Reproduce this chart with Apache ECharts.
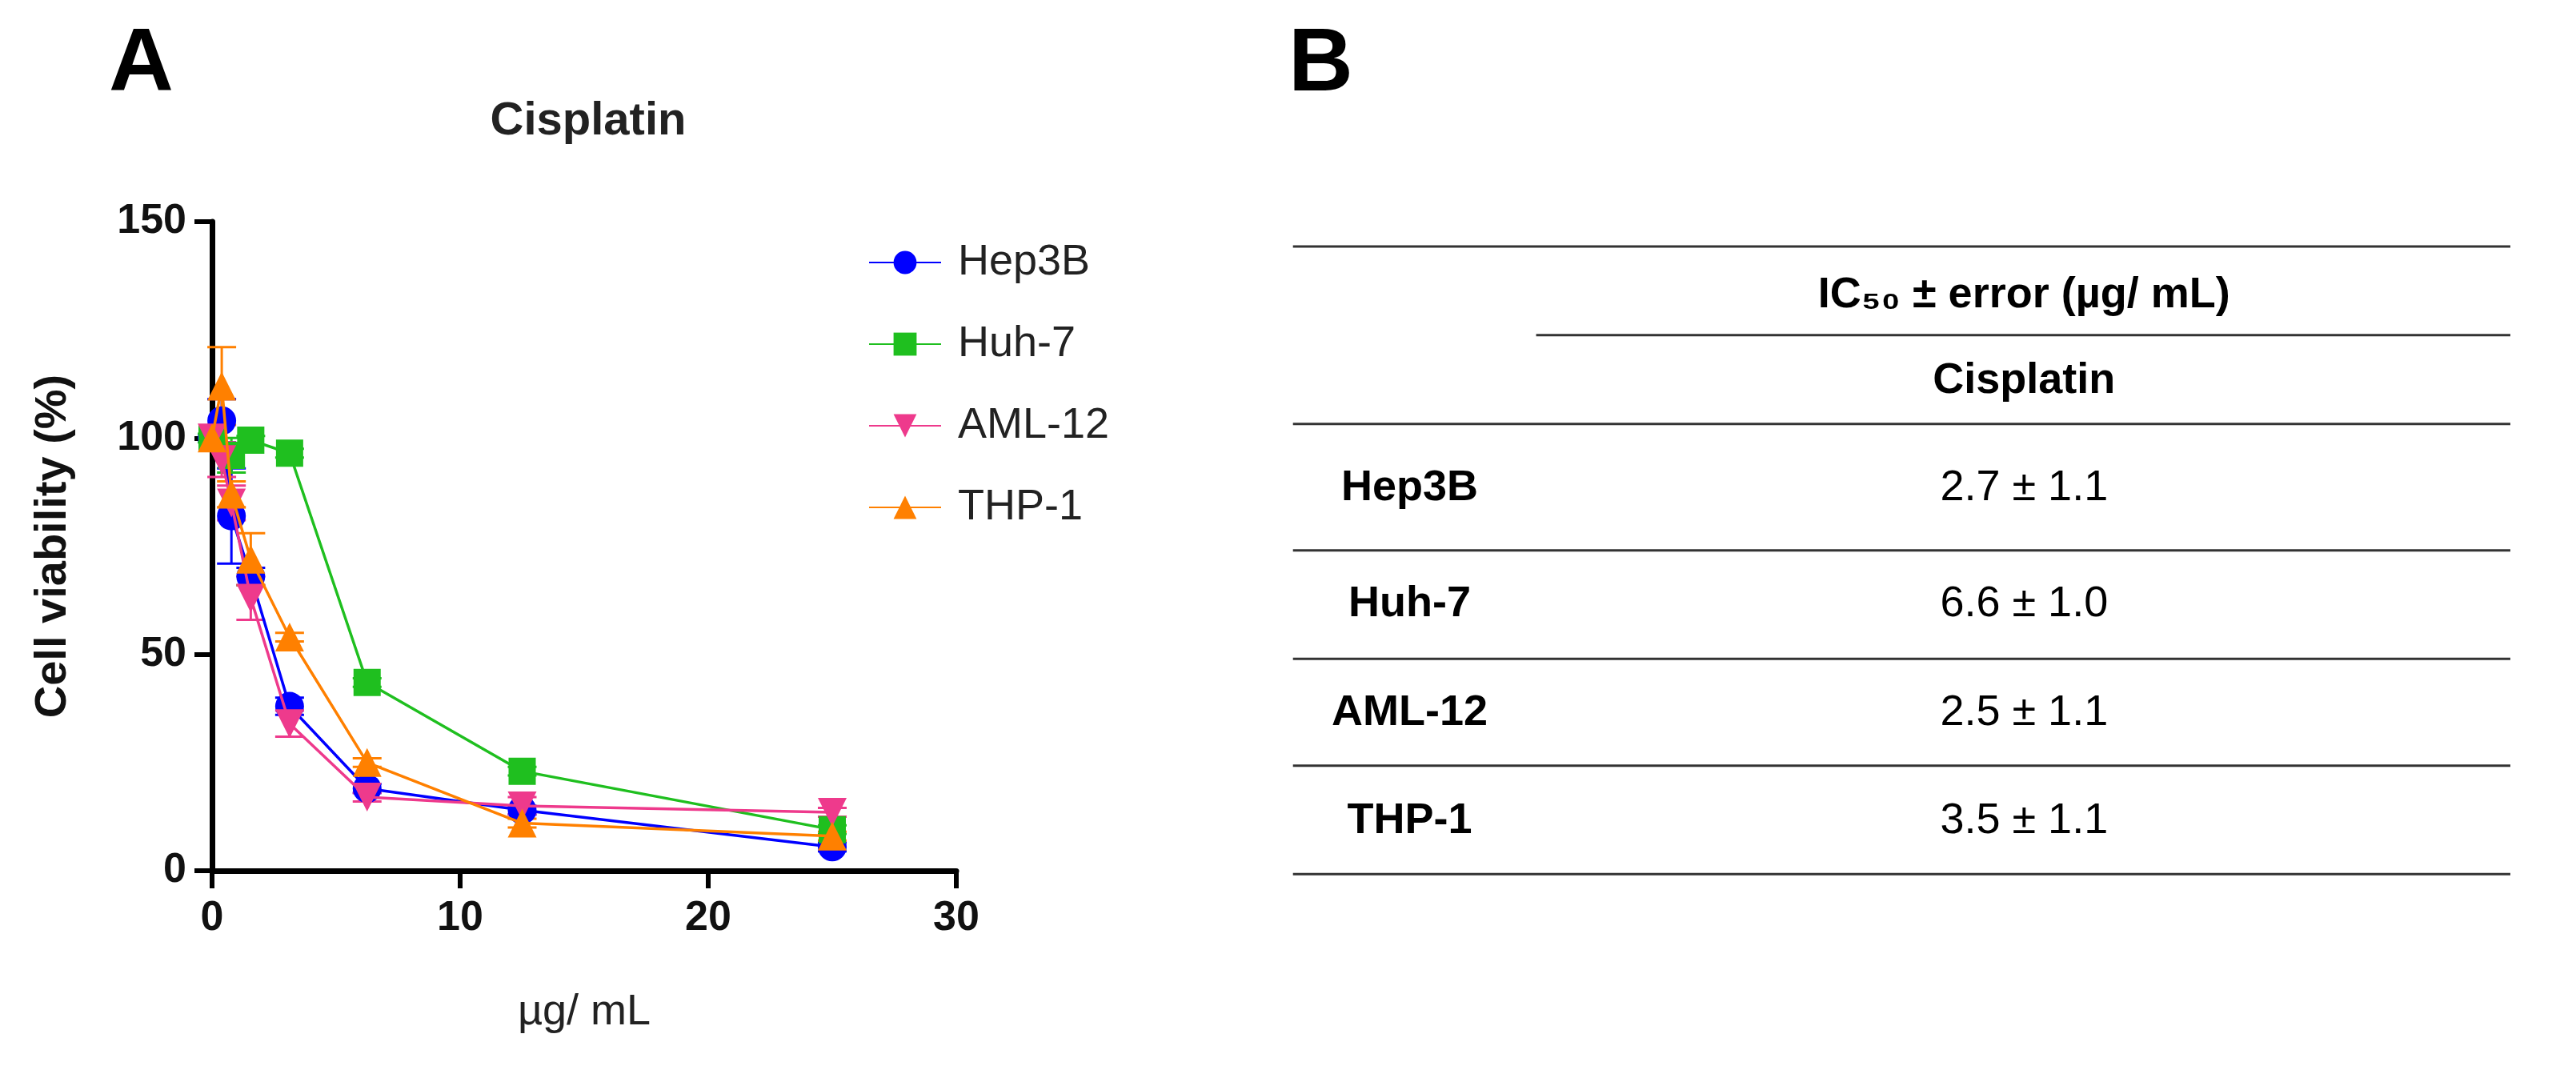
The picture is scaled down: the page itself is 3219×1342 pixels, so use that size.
<!DOCTYPE html>
<html><head><meta charset="utf-8">
<script src="https://cdn.jsdelivr.net/npm/echarts@6/dist/echarts.min.js"></script>
<style>html,body{margin:0;padding:0;background:#fff}#c{width:3219px;height:1342px}</style>
</head><body><div id="c"></div>
<script>
const doses = [0, 0.39, 0.78, 1.56, 3.125, 6.25, 12.5, 25];
const seriesNames = ['Hep3B', 'Huh-7', 'AML-12', 'THP-1'];
const hep3b = [100, 104, 82, 68, 38, 19, 14, 5.5];
const huh7 = [100, null, 96, 99.5, 96.5, 43.5, 23, 9.5];
const aml12 = [100, 95, 85, 63, 34, 17, 15, 13.5];
const thp1 = [100, 112, 87, 72, 54, 25, 11, 8];
const hep3bErr = [0, 5, 11, 2, 2, 1, 1, 1];
const huh7Err = [1, 0, 4, 1, 1, 1, 1, 1];
const aml12Err = [0, 4, 4, 5, 3, 1, 2, 1];
const thp1Err = [0, 9, 3, 6, 1, 1, 1, 1];
const colors = ['#0000ff', '#1fbf1f', '#ee3a8c', '#ff8000'];
const symbols = ['circle', 'rect', 'triangle', 'triangle'];
const symbolRotate = [0, 0, 180, 0];
const xTicks = [0, 10, 20, 30];
const yTicks = [0, 50, 100, 150];
const tableHeader = 'IC₅₀ ± error (µg/ mL)';
const tableSub = 'Cisplatin';
const tableRows = ['Hep3B', 'Huh-7', 'AML-12', 'THP-1'];
const tableVals = ['2.7 ± 1.1', '6.6 ± 1.0', '2.5 ± 1.1', '3.5 ± 1.1'];

const vals = [hep3b, huh7, aml12, thp1];
const errs = [hep3bErr, huh7Err, aml12Err, thp1Err];
const S = 2.053;
const F = 'Arial, "Liberation Sans", sans-serif';

const series = [];
vals.forEach((v, i) => {
  const pts = doses.map((d, k) => v[k] == null ? null : [d, v[k]]).filter(p => p);
  series.push({
    name: seriesNames[i], type: 'line', data: pts, z: 3 + i,
    symbol: symbols[i], symbolRotate: symbolRotate[i],
    symbolSize: i === 1 ? 34 : 36,
    lineStyle: { color: colors[i], width: 3.5 }, itemStyle: { color: colors[i] }
  });
  const ed = doses.map((d, k) => v[k] == null ? null : [d, v[k], errs[i][k]]).filter(p => p && p[2] > 0);
  series.push({
    type: 'custom', data: ed, z: 2, silent: true,
    renderItem: (params, api) => {
      const x = api.value(0), y = api.value(1), e = api.value(2);
      const top = api.coord([x, y + e]), bot = api.coord([x, y - e]);
      const w = 18;
      return { type: 'group', children: [
        { type: 'line', shape: { x1: top[0], y1: top[1], x2: bot[0], y2: bot[1] }, style: { stroke: colors[i], lineWidth: 3 } },
        { type: 'line', shape: { x1: top[0] - w, y1: top[1], x2: top[0] + w, y2: top[1] }, style: { stroke: colors[i], lineWidth: 3 } },
        { type: 'line', shape: { x1: bot[0] - w, y1: bot[1], x2: bot[0] + w, y2: bot[1] }, style: { stroke: colors[i], lineWidth: 3 } }
      ]};
    }
  });
});

const g = [];
g.push({ type: 'text', left: 136, top: 26, style: { text: 'A', font: 'bold 112px ' + F, fill: '#000' } });
g.push({ type: 'text', left: 1610, top: 26, style: { text: 'B', font: 'bold 112px ' + F, fill: '#000' } });
const tx2 = 1528 * S;
const lines = [[787, 150], [935, 204], [787, 258], [787, 335], [787, 401], [787, 466], [787, 532]];
lines.forEach(l => g.push({ type: 'line', shape: { x1: l[0] * S, y1: l[1] * S, x2: tx2, y2: l[1] * S }, style: { stroke: '#333', lineWidth: 3 } }));
g.push({ type: 'text', x: 1232 * S, y: 180 * S, style: { text: tableHeader, font: 'bold 54px ' + F, fill: '#000', align: 'center', verticalAlign: 'middle' } });
g.push({ type: 'text', x: 1232 * S, y: 232 * S, style: { text: tableSub, font: 'bold 54px ' + F, fill: '#000', align: 'center', verticalAlign: 'middle' } });
const rowY = [297, 368, 434, 500];
tableRows.forEach((r, k) => {
  g.push({ type: 'text', x: 858 * S, y: rowY[k] * S, style: { text: r, font: 'bold 54px ' + F, fill: '#000', align: 'center', verticalAlign: 'middle' } });
  g.push({ type: 'text', x: 1232 * S, y: rowY[k] * S, style: { text: tableVals[k], font: '54px ' + F, fill: '#000', align: 'center', verticalAlign: 'middle' } });
});

const chart = echarts.init(document.getElementById('c'));
chart.setOption({
  backgroundColor: '#fff',
  animation: false,
  title: { text: 'Cisplatin', left: 730, top: 118, textAlign: 'center', textStyle: { fontFamily: F, fontWeight: 'bold', fontSize: 58, color: '#222' } },
  legend: {
    data: seriesNames, orient: 'vertical', left: 1080, top: 296, itemGap: 48,
    itemWidth: 90, itemHeight: 36,
    textStyle: { fontFamily: F, fontSize: 54, color: '#222', padding: [0, 0, 0, 16] }
  },
  grid: { left: 265, top: 277, width: 930, height: 811 },
  xAxis: {
    type: 'value', min: 0, max: 30, interval: 10,
    name: 'µg/ mL', nameLocation: 'middle', nameGap: 150,
    nameTextStyle: { fontFamily: F, fontSize: 54, color: '#222' },
    axisLine: { lineStyle: { color: '#000', width: 7 } },
    axisTick: { inside: false, length: 22, lineStyle: { width: 6, color: '#000' } },
    axisLabel: { fontFamily: F, fontWeight: 'bold', fontSize: 52, color: '#111', margin: 34, formatter: v => xTicks.includes(v) ? String(v) : '' },
    splitLine: { show: false }
  },
  yAxis: {
    type: 'value', min: 0, max: 150, interval: 50,
    name: 'Cell viability (%)', nameLocation: 'middle', nameGap: 170, nameRotate: 90,
    nameTextStyle: { fontFamily: F, fontWeight: 'bold', fontSize: 56, color: '#111' },
    axisLine: { show: true, lineStyle: { color: '#000', width: 7 } },
    axisTick: { show: true, length: 22, lineStyle: { width: 6, color: '#000' } },
    axisLabel: { fontFamily: F, fontWeight: 'bold', fontSize: 52, color: '#111', margin: 32, formatter: v => yTicks.includes(v) ? String(v) : '' },
    splitLine: { show: false }
  },
  series: series,
  graphic: g
});
</script></body></html>
